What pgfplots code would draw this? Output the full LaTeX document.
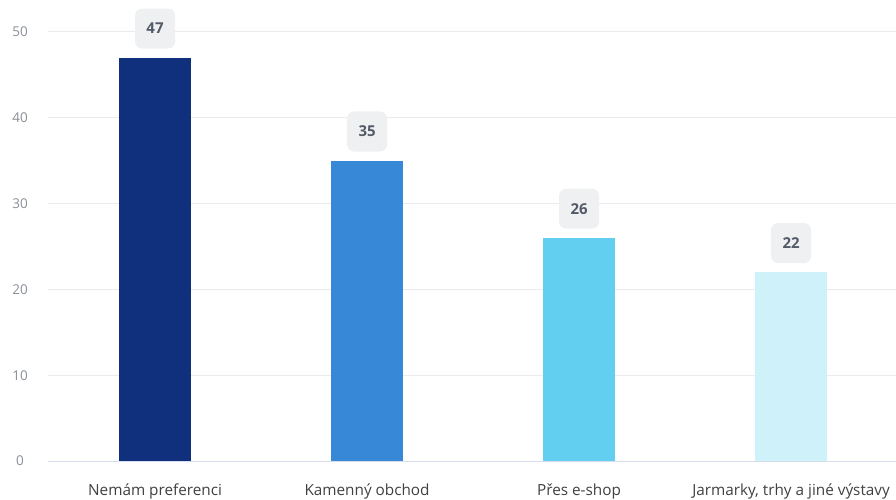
\documentclass[border=0pt]{standalone}
\usepackage{pgfplots}
\pgfplotsset{compat=1.18}
\usepackage{fontspec}
\setmainfont{Open Sans}
\definecolor{c1}{HTML}{10307E}
\definecolor{c2}{HTML}{3789D8}
\definecolor{c3}{HTML}{62CFF0}
\definecolor{c4}{HTML}{CFF1FA}
\definecolor{boxfill}{HTML}{EFF0F1}
\definecolor{boxtext}{HTML}{535A68}
\definecolor{ticktext}{HTML}{8A8F98}
\definecolor{gridc}{HTML}{EBEBED}
\definecolor{basec}{HTML}{D5DCEB}
\begin{document}
\begin{tikzpicture}
\path[use as bounding box] (-48pt,-38pt) rectangle (848pt,461pt);
\begin{axis}[
  at={(0pt,0pt)}, anchor=south west,
  scale only axis, width=848pt, height=461pt,
  xmin=-0.505, xmax=3.495, ymin=0, ymax=53.73,
  axis line style={draw=none},
  ybar, bar width=72pt,
  xtick={0,1,2,3},
  xticklabels={Nemám preferenci, Kamenný obchod, Přes e-shop, {Jarmarky, trhy a jiné výstavy}},
  ytick={0,10,20,30,40,50},
  ymajorgrids, grid style={gridc, line width=1pt},
  major tick length=0pt,
  xticklabel style={anchor=center, yshift=-30pt, font=\fontsize{15.3}{18}\selectfont, text=black!75},
  yticklabel style={anchor=center, xshift=-28pt, font=\fontsize{13.5}{16}\selectfont, text=ticktext},
  /pgf/number format/assume math mode=true,
  clip=false,
  nodes near coords,
  every node near coord/.append style={
    fill=boxfill, rounded corners=7pt, minimum width=40pt, minimum height=40pt,
    anchor=south, yshift=9pt, text=boxtext,
    font=\fontsize{15}{17}\selectfont\bfseries, inner sep=0pt},
]
\addplot[fill=c1, draw=none, bar shift=0pt] coordinates {(0,47)};
\addplot[fill=c2, draw=none, bar shift=0pt] coordinates {(1,35)};
\addplot[fill=c3, draw=none, bar shift=0pt] coordinates {(2,26)};
\addplot[fill=c4, draw=none, bar shift=0pt] coordinates {(3,22)};
\draw[basec, line width=1pt] (axis cs:-0.505,0) -- (axis cs:3.495,0);
\end{axis}
\end{tikzpicture}
\end{document}
